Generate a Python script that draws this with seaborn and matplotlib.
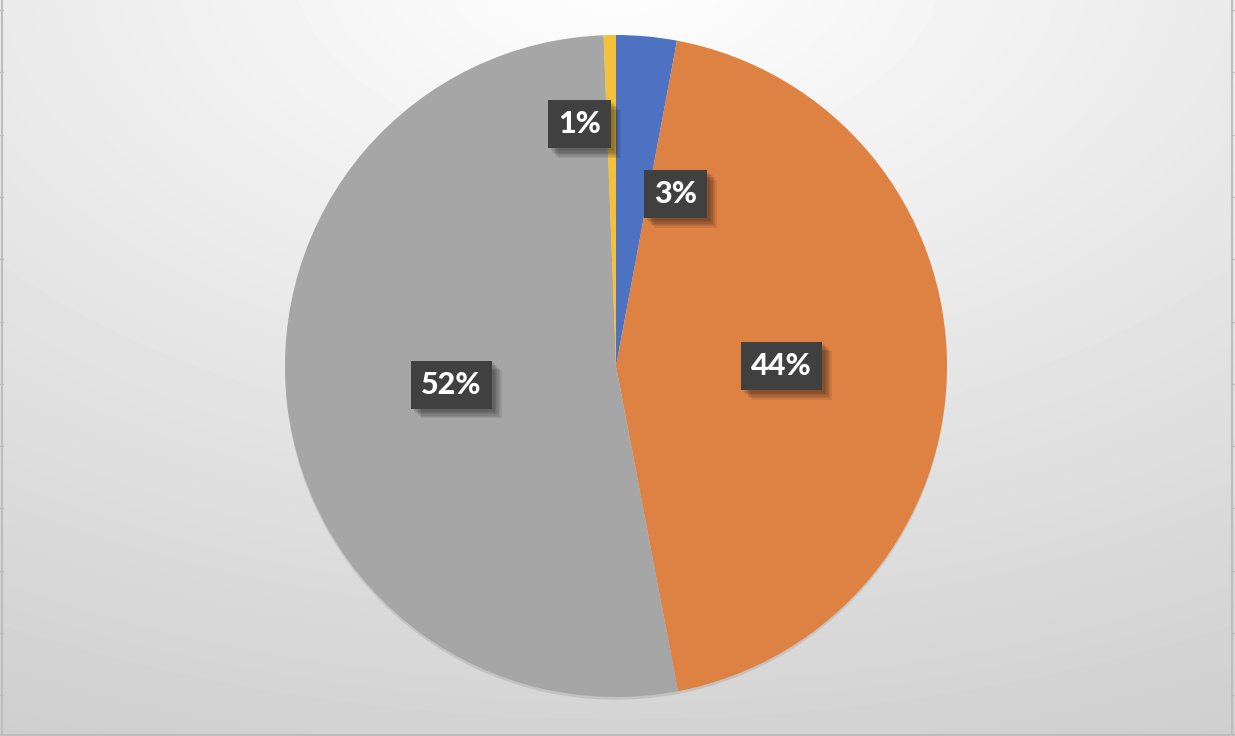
import numpy as np
import matplotlib
matplotlib.use("Agg")
import matplotlib.pyplot as plt
import matplotlib.patheffects as pe
import seaborn as sns

# slices, clockwise from 12 o'clock
categories = ["A", "B", "C", "D"]
shares = [2.95, 44.05, 52.4, 0.6]
pct_labels = ["3%", "44%", "52%", "1%"]
colors = ["#4E72C2", "#DE8244", "#A6A6A6", "#F3C13A"]

sns.set_style("white")
plt.rcParams["font.family"] = ["Lato", "DejaVu Sans"]

W, H = 1235, 736
fig = plt.figure(figsize=(W / 100, H / 100), dpi=100)

# background: soft radial gradient like the office chart area
bg = fig.add_axes([0, 0, 1, 1])
yy, xx = np.mgrid[0:H, 0:W]
d = np.sqrt(((xx - 0.5 * W) / W) ** 2 + ((yy + 0.05 * H) / H) ** 2)
d = d / d.max()
shade = 1.0 - 0.19 * d
bg.imshow(shade, cmap="gray", vmin=0, vmax=1, extent=[0, W, H, 0], aspect="auto")
bg.set_xlim(0, W)
bg.set_ylim(H, 0)
bg.axis("off")

# sheet border and row lines peeking out
border = "#BDBDBD"
bg.plot([1.5, 1.5], [0, H], color=border, lw=1.5)
bg.plot([1231.5, 1231.5], [0, H], color=border, lw=1.5)
bg.plot([0, W], [734.5, 734.5], color=border, lw=1.5)
for y in np.arange(10, H, 62.3):
    bg.plot([0, 3], [y, y], color=border, lw=1)
    bg.plot([1231, W], [y, y], color=border, lw=1)

# pie
cx, cy, r = 616, 366, 331
ax = fig.add_axes([(cx - r) / W, (H - cy - r) / H, 2 * r / W, 2 * r / H])
wedges, texts, autotexts = ax.pie(
    shares, colors=colors, startangle=90, counterclock=False,
    autopct="%1.0f%%", pctdistance=0.5, radius=1,
    wedgeprops=dict(linewidth=0),
)
ax.set_xlim(-1, 1)
ax.set_ylim(-1, 1)
ax.set_aspect("equal")
for w in wedges:
    w.set_path_effects([pe.SimplePatchShadow(offset=(0, -2), alpha=0.12), pe.Normal()])

# soft blurred-looking shadow for the label boxes
soft = [pe.SimplePatchShadow(offset=(k, -k), alpha=0.09, shadow_rgbFace="#111111")
        for k in (7, 6, 5, 4, 3, 2)]

# small slices get their labels pulled out a little
label_pos = {0: (0.18, 0.52), 3: (-0.11, 0.73)}
for i, t in enumerate(autotexts):
    t.set_text(pct_labels[i])
    if i in label_pos:
        t.set_position(label_pos[i])
    t.set_color("white")
    t.set_fontweight("black")
    t.set_fontsize(22)
    t.set_bbox(dict(boxstyle="square,pad=0.33", facecolor="#404040", edgecolor="none"))
    t.get_bbox_patch().set_path_effects(soft + [pe.Normal()])

fig.savefig("out.png", dpi=100)
